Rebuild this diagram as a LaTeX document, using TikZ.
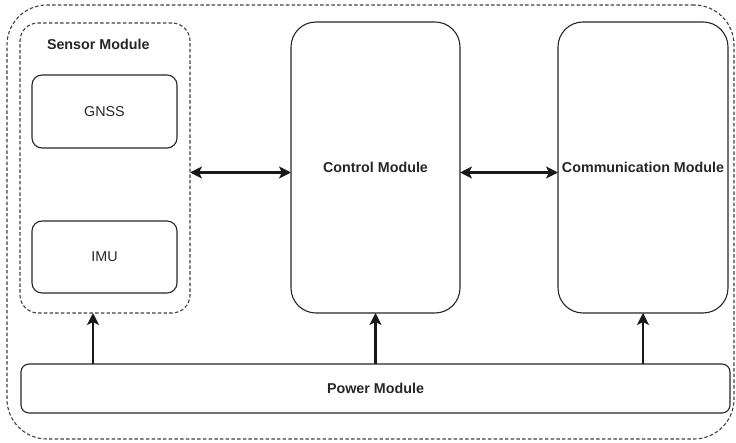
\documentclass[tikz,border=0pt]{standalone}
\usepackage{fontspec}
\setmainfont{Liberation Sans}
\usetikzlibrary{arrows.meta}
\begin{document}
\begin{tikzpicture}[x=1pt,y=-1pt,
  every node/.style={inner sep=0pt,outer sep=0pt,font=\fontsize{14.3}{17}\selectfont,text=black!85},
  box/.style={draw=black!85,line width=1.1pt,rectangle},
  dbox/.style={draw=black!75,line width=1.1pt,rectangle,dash pattern=on 3.5pt off 2.2pt},
  arr/.style={line width=2.2pt,draw=black!90,{Stealth[length=12pt,width=12pt,inset=3pt]}-{Stealth[length=12pt,width=12pt,inset=3pt]}},
  uarr/.style={line width=2.2pt,draw=black!90,-{Stealth[length=12pt,width=12pt,inset=3pt]}}]
\useasboundingbox (0,0) rectangle (736,443);
\node[dbox,rounded corners=40pt,minimum width=727pt,minimum height=434pt] (outer) at (370.5,222) {};
\node[dbox,rounded corners=18pt,minimum width=170pt,minimum height=290pt] (sensor) at (105,168) {};
\node[anchor=west,font=\fontsize{14.3}{17}\selectfont\bfseries] (sensorlbl) at (47,44) {Sensor Module};
\node[box,rounded corners=10pt,minimum width=145pt,minimum height=73pt] (gnss) at (104.5,111.5) {GNSS};
\node[box,rounded corners=10pt,minimum width=145pt,minimum height=72pt] (imu) at (104.5,257) {IMU};
\node[box,rounded corners=25pt,minimum width=169pt,minimum height=291pt,font=\fontsize{14.3}{17}\selectfont\bfseries] (control) at (375.5,167.5) {Control Module};
\node[box,rounded corners=25pt,minimum width=170pt,minimum height=291pt,font=\fontsize{14.3}{17}\selectfont\bfseries] (comm) at (643,167.5) {Communication Module};
\node[box,rounded corners=8pt,minimum width=709pt,minimum height=49pt,font=\fontsize{14.3}{17}\selectfont\bfseries] (power) at (375.5,388.5) {Power Module};
\coordinate (ay) at (0,172.5);
\coordinate (px) at (93,0);
\draw[arr] (sensor.east |- ay) -- (control.west |- ay);
\draw[arr] (control.east |- ay) -- (comm.west |- ay);
\draw[uarr] (power.north -| px) -- (sensor.south -| px);
\draw[uarr] (power.north -| control.south) -- (control.south);
\draw[uarr] (power.north -| comm.south) -- (comm.south);
\end{tikzpicture}
\end{document}
